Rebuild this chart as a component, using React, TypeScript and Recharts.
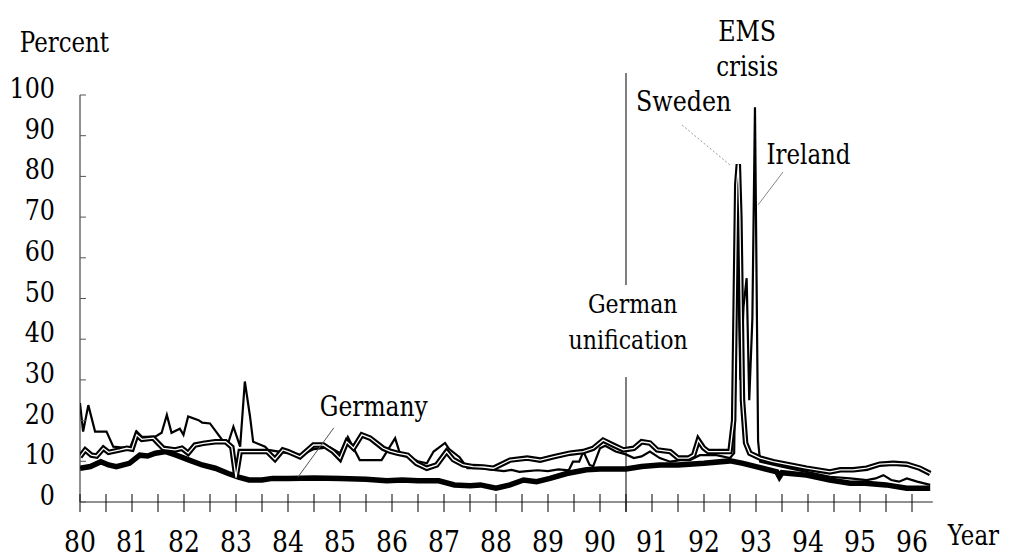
import React from 'react';
import { LineChart, Line, XAxis, YAxis, ReferenceLine, ReferenceDot } from 'recharts';

const FONT = '"DejaVu Serif", "Liberation Serif", "Times New Roman", serif';
const SX = 0.85; // horizontal compression to approximate Times proportions

// ---------- data ----------
const germanyT = [80.0, 80.2, 80.4, 80.55, 80.7, 80.95, 81.15, 81.3, 81.45, 81.65, 81.85, 82.1, 82.35, 82.6, 82.85, 83.05, 83.25, 83.5, 83.7, 84.0, 84.5, 85.0, 85.5, 85.9, 86.2, 86.5, 86.9, 87.2, 87.5, 87.7, 88.0, 88.27, 88.53, 88.78, 89.04, 89.36, 89.74, 90.0, 90.5, 90.8, 91.15, 91.5, 92.0, 92.5, 92.75, 93.0, 93.4, 93.45, 93.5, 93.97, 94.42, 94.81, 95.1, 95.5, 95.9, 96.35];
const germanyV = [8.3, 8.7, 9.9, 9.1, 8.7, 9.5, 11.5, 11.3, 12.0, 12.4, 11.5, 10.3, 9.1, 8.3, 7.0, 6.1, 5.4, 5.4, 5.8, 5.8, 5.9, 5.8, 5.6, 5.2, 5.4, 5.2, 5.2, 4.2, 4.0, 4.2, 3.4, 4.2, 5.4, 5.0, 5.8, 7.0, 7.9, 8.1, 8.1, 8.7, 9.1, 9.1, 9.5, 10.1, 9.5, 8.7, 7.4, 6.2, 7.2, 6.6, 5.4, 4.6, 4.6, 4.2, 3.4, 3.4];

const swedenT = [80.0, 80.1, 80.22, 80.32, 80.45, 80.55, 80.77, 80.9, 81.0, 81.09, 81.19, 81.41, 81.5, 81.6, 81.83, 81.96, 82.08, 82.21, 82.37, 82.6, 82.8, 82.92, 83.0, 83.08, 83.6, 83.75, 83.9, 84.0, 84.23, 84.49, 84.68, 84.87, 85.0, 85.13, 85.26, 85.42, 85.58, 85.83, 85.96, 86.1, 86.3, 86.47, 86.67, 86.86, 87.05, 87.18, 87.37, 87.56, 87.75, 87.95, 88.27, 88.6, 88.85, 89.1, 89.42, 89.68, 89.87, 90.06, 90.25, 90.45, 90.65, 90.8, 90.96, 91.1, 91.35, 91.5, 91.7, 91.8, 91.89, 91.99, 92.08, 92.24, 92.5, 92.57, 92.63, 92.66, 92.69, 92.74, 92.8, 92.88, 93.08, 93.33, 93.65, 93.97, 94.42, 94.62, 94.87, 95.13, 95.38, 95.64, 95.9, 96.15, 96.35];
const swedenV = [11.1, 12.8, 11.5, 11.3, 13.2, 12.2, 12.8, 13.2, 13.0, 16.5, 15.4, 15.7, 14.5, 13.2, 12.8, 13.2, 12.0, 14.0, 14.4, 14.8, 14.8, 13.5, 6.0, 12.4, 12.4, 10.5, 12.8, 12.4, 11.1, 14.0, 14.0, 12.4, 10.7, 14.8, 13.2, 16.5, 15.7, 13.2, 12.5, 12.0, 11.5, 9.5, 8.3, 9.1, 12.4, 10.4, 9.1, 8.7, 8.6, 8.3, 10.3, 10.8, 10.3, 11.1, 12.0, 12.4, 13.2, 15.2, 14.0, 12.8, 13.2, 14.8, 14.5, 12.8, 12.4, 10.8, 10.8, 11.5, 15.2, 13.3, 12.4, 12.4, 12.4, 20, 78, 83, 70, 25, 14.5, 12.0, 10.8, 9.9, 9.1, 8.3, 7.4, 7.9, 7.9, 8.3, 9.3, 9.5, 9.3, 8.3, 7.0];

const irelandT = [80.0, 80.06, 80.16, 80.29, 80.51, 80.64, 80.96, 81.09, 81.19, 81.44, 81.57, 81.67, 81.76, 81.92, 81.99, 82.08, 82.28, 82.35, 82.5, 82.76, 82.85, 82.95, 83.08, 83.17, 83.27, 83.33, 83.56, 83.62, 84.0, 84.25, 84.5, 84.8, 85.0, 85.15, 85.38, 85.8, 86.06, 86.15, 86.5, 86.67, 86.8, 87.02, 87.1, 87.3, 87.45, 87.7, 87.95, 88.15, 88.3, 88.45, 88.6, 88.8, 89.0, 89.2, 89.4, 89.48, 89.6, 89.68, 89.8, 89.87, 90.0, 90.1, 90.3, 90.5, 90.65, 90.8, 90.96, 91.15, 91.35, 91.55, 91.73, 91.92, 92.24, 92.5, 92.58, 92.64, 92.7, 92.76, 92.82, 92.87, 92.93, 92.98, 93.04, 93.08, 93.5, 93.97, 94.42, 94.81, 95.13, 95.3, 95.45, 95.6, 95.75, 95.9, 96.1, 96.35];
const irelandV = [24.3, 17.3, 23.8, 17.3, 17.3, 13.6, 13.2, 17.3, 16.0, 16.0, 17.0, 21.4, 17.0, 18.0, 16.5, 21.0, 20.1, 19.5, 19.3, 14.8, 14.5, 18.5, 13.6, 29.6, 21.0, 14.8, 13.6, 12.8, 12.0, 11.5, 13.0, 13.5, 12.0, 16.0, 10.3, 10.3, 15.7, 12.0, 10.0, 9.5, 12.4, 14.5, 13.0, 11.0, 8.3, 8.3, 7.9, 7.6, 7.9, 7.4, 7.6, 7.8, 7.6, 8.0, 7.8, 9.9, 9.9, 12.4, 9.1, 8.8, 13.2, 13.8, 12.4, 11.7, 10.8, 11.2, 12.4, 10.8, 9.9, 10.3, 10.3, 11.5, 11.5, 10.8, 12, 69, 30, 48, 55, 25, 45, 97, 15, 9.9, 8.7, 7.4, 6.2, 5.8, 5.4, 5.8, 6.6, 5.4, 5.0, 5.8, 5.0, 4.2];

const yearLabels = ['80', '81', '82', '83', '84', '85', '86', '87', '88', '89', '90', '91', '92', '93', '94', '95', '96'];
const xTicks = [80, 80.5, 81, 81.5, 82, 82.5, 83, 83.5, 84, 84.5, 85, 85.5, 86, 86.5, 87, 87.5, 88, 88.5, 89, 89.5, 90, 90.5, 91, 91.5, 92, 92.5, 93, 93.5, 94, 94.5, 95, 95.5, 96];
const yTicks = [0, 10, 20, 30, 40, 50, 60, 70, 80, 90, 100];

const unificationYear = 90.5;

const toRows = (t: number[], v: number[]) => t.map((x, i) => ({ t: x, v: v[i] }));
const germany = toRows(germanyT, germanyV);
const sweden = toRows(swedenT, swedenV);
const ireland = toRows(irelandT, irelandV);

const STxt = ({ x, y, size, anchor = 'middle', baseline, children }: any) => (
  <text
    transform={`translate(${x} ${y}) scale(${SX} 1)`}
    x={0}
    y={0}
    textAnchor={anchor}
    dominantBaseline={baseline}
    style={{ fontFamily: FONT, fontSize: size, fill: '#000' }}
  >
    {children}
  </text>
);

const XTick = (props: any) => {
  const { x, y, payload } = props;
  const v = payload.value as number;
  const idx = Math.round(v) - 80;
  const isYear = Math.abs(v - Math.round(v)) < 1e-6;
  return (
    <g>
      <line x1={x} x2={x} y1={y - 8} y2={y + 10} stroke="#000" strokeWidth={1} />
      {isYear && (
        <STxt x={x} y={y + 50} size={29.5}>
          {yearLabels[idx]}
        </STxt>
      )}
    </g>
  );
};

const YTick = (props: any) => {
  const { x, y, payload } = props;
  return (
    <g>
      <line x1={x} x2={x + 6} y1={y} y2={y} stroke="#555" strokeWidth={1} />
      <STxt x={x - 25} y={y + 3} size={28} anchor="end">
        {payload.value}
      </STxt>
    </g>
  );
};

const makeLabel = (value: string, size: number) => (props: any) => {
  const vb = props.viewBox || {};
  const cx = (vb.x ?? 0) + (vb.width ?? 0) / 2;
  const cy = (vb.y ?? 0) + (vb.height ?? 0) / 2;
  return (
    <STxt x={cx} y={cy} size={size} baseline="central">
      {value}
    </STxt>
  );
};

const annot = (x: number, y: number, value: string, size = 27) => (
  <ReferenceDot
    key={value}
    x={x}
    y={y}
    r={0}
    fill="none"
    stroke="none"
    ifOverflow="visible"
    label={makeLabel(value, size)}
  />
);

export default function App() {
  return (
    <div style={{ position: 'absolute', left: 0, top: 0, background: '#fff', fontFamily: FONT }}>
      <LineChart width={1009} height={558} margin={{ top: 95, right: 76.2, bottom: 0, left: 20 }}>
        <XAxis
          dataKey="t"
          type="number"
          domain={[80, 96.4]}
          ticks={xTicks}
          interval={0}
          allowDataOverflow
          height={56}
          tickSize={0}
          tickMargin={0}
          tick={<XTick />}
          axisLine={{ stroke: '#222', strokeWidth: 1 }}
          tickLine={false}
        />
        <YAxis
          type="number"
          domain={[0, 100]}
          ticks={yTicks}
          interval={0}
          width={60}
          tickSize={0}
          tickMargin={0}
          tick={<YTick />}
          axisLine={{ stroke: '#222', strokeWidth: 1 }}
          tickLine={false}
        />
        <ReferenceLine
          segment={[{ x: unificationYear, y: 105.4 }, { x: unificationYear, y: 53.3 }]}
          stroke="#000"
          strokeWidth={1}
          ifOverflow="visible"
        />
        <ReferenceLine
          segment={[{ x: unificationYear, y: 30.7 }, { x: unificationYear, y: -2.4 }]}
          stroke="#000"
          strokeWidth={1}
          ifOverflow="visible"
        />
        <Line data={germany} dataKey="v" type="linear" stroke="#000" strokeWidth={5.5} dot={false} isAnimationActive={false} />
        <Line data={ireland} dataKey="v" type="linear" stroke="#000" strokeWidth={2.2} dot={false} isAnimationActive={false} />
        <Line data={sweden} dataKey="v" type="linear" stroke="#000" strokeWidth={5.5} dot={false} isAnimationActive={false} />
        <Line data={sweden} dataKey="v" type="linear" stroke="#fff" strokeWidth={1.3} dot={false} isAnimationActive={false} />

        <ReferenceLine segment={[{ x: 91.58, y: 92.6 }, { x: 92.5, y: 82.8 }]} stroke="#999" strokeWidth={1} strokeDasharray="2 2" ifOverflow="visible" />
        <ReferenceLine segment={[{ x: 93.52, y: 81.1 }, { x: 93.04, y: 73.0 }]} stroke="#888" strokeWidth={1} ifOverflow="visible" />
        <ReferenceLine segment={[{ x: 84.88, y: 18.2 }, { x: 84.19, y: 6.1 }]} stroke="#555" strokeWidth={1} ifOverflow="visible" />

        {annot(79.7, 112.8, 'Percent', 27)}
        {annot(97.18, -8.3, 'Year', 27)}
        {annot(92.83, 115.7, 'EMS', 28)}
        {annot(92.83, 106.9, 'crisis', 27)}
        {annot(91.61, 98.5, 'Sweden', 28)}
        {annot(94.01, 85.3, 'Ireland', 27)}
        {annot(90.63, 48.6, 'German', 26)}
        {annot(90.54, 39.6, 'unification', 26)}
        {annot(85.65, 23.6, 'Germany', 27.5)}
      </LineChart>
    </div>
  );
}
